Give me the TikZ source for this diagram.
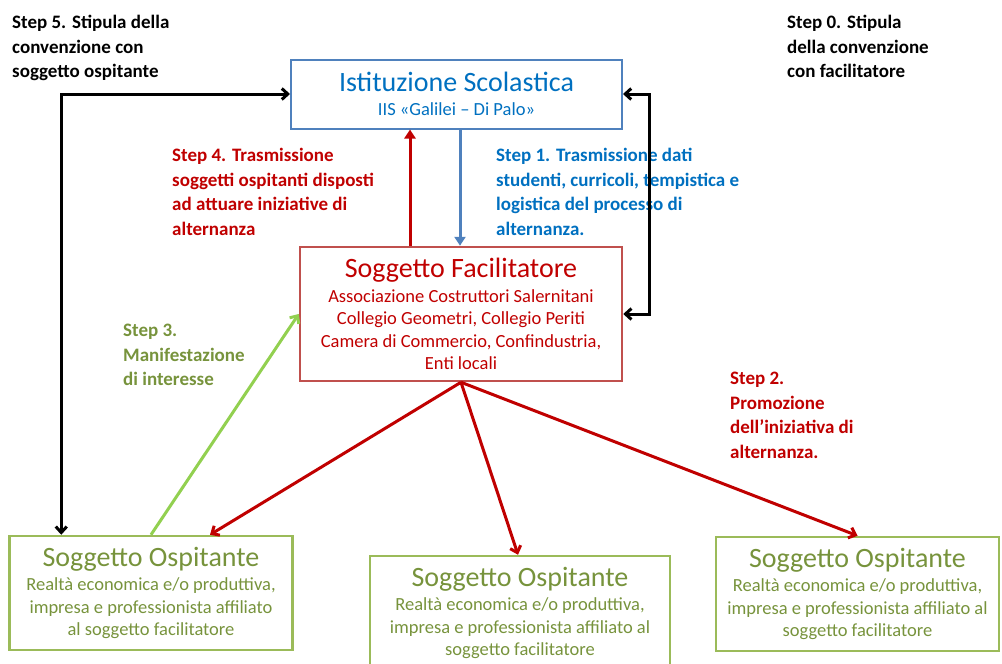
\documentclass[tikz,border=0pt]{standalone}
\usepackage{fontspec}
\setmainfont{Carlito}
\usepackage{xcolor}
\usetikzlibrary{arrows.meta,positioning,calc}

\definecolor{istblue}{HTML}{4F81BD}
\definecolor{txtblue}{HTML}{0070C0}
\definecolor{facred}{HTML}{C0504D}
\definecolor{txtred}{HTML}{C00000}
\definecolor{ospgreen}{HTML}{9BBB59}
\definecolor{txtgreen}{HTML}{77933C}
\definecolor{arrgreen}{HTML}{92D050}

\newcommand{\boxtitle}[1]{{\fontsize{28}{30}\selectfont #1}}

\tikzset{
  box/.style={draw, line width=2.5pt, align=center, inner sep=2pt, font=\fontsize{18.5}{22.5}\selectfont},
  istbox/.style={box, draw=istblue, line width=2pt, text=txtblue, minimum width=331, minimum height=69},
  facbox/.style={box, draw=facred, text=txtred, minimum width=322, minimum height=134},
  ospbox/.style={box, draw=ospgreen, text=txtgreen, minimum width=283, minimum height=114},
  steplbl/.style={anchor=north west, inner sep=0pt, align=left, font=\bfseries\fontsize{19}{24.5}\selectfont},
  link/.style={line width=3pt, -{Straight Barb[length=6pt,width=11pt]}},
  biglink/.style={line width=3pt, {Straight Barb[length=6pt,width=11pt]}-{Straight Barb[length=6pt,width=11pt]}}
}

\begin{document}
\begin{tikzpicture}[x=1pt, y=-1pt]
  \useasboundingbox (0,0) rectangle (1002,664);

  % Boxes
  \node[istbox] (ist) at (456.5,94) {\boxtitle{Istituzione Scolastica}\\[2pt]
    IIS «Galilei – Di Palo»};

  \node[facbox] (fac) at (461,314) {\boxtitle{Soggetto Facilitatore}\\[2pt]
    Associazione Costruttori Salernitani\\
    Collegio Geometri, Collegio Periti\\
    Camera di Commercio, Confindustria,\\
    Enti locali};

  % Soggetti ospitanti
  \foreach \name/\x/\y/\w/\body in {
      osp1/151/593/283/{impresa e professionista affiliato\\al soggetto facilitatore},
      osp2/520/613/300/{impresa e professionista affiliato al\\soggetto facilitatore},
      osp3/857.5/594/283/{impresa e professionista affiliato al\\soggetto facilitatore}} {
    \node[ospbox, minimum width=\w] (\name) at (\x,\y) {\boxtitle{Soggetto Ospitante}\\[2pt]
      Realtà economica e/o produttiva,\\ \body};
  }

  % Step labels
  \node[steplbl] (s5) at (12,15) {Step 5. Stipula della\\convenzione con\\soggetto ospitante};
  \node[steplbl] (s0) at (787,15) {Step 0. Stipula\\della convenzione\\con facilitatore};
  \node[steplbl, text=txtred] (s4) at (172,148) {Step 4. Trasmissione\\soggetti ospitanti disposti\\ad attuare iniziative di\\alternanza};
  \node[steplbl, text=txtblue] (s1) at (496,148) {Step 1. Trasmissione dati\\studenti, curricoli, tempistica e\\logistica del processo di\\alternanza.};
  \node[steplbl, text=txtgreen] (s3) at (123,324) {Step 3.\\Manifestazione\\di interesse};
  \node[steplbl, text=txtred] (s2) at (730,372) {Step 2.\\Promozione\\dell’iniziativa di\\alternanza.};

  % Connectors
  \draw[biglink] (fac.east) -- ++(26,0) |- (ist.east);
  \draw[biglink] (ist.west) -| ($(osp1.north west)+(53,0)$);

  \draw[link, txtred, -{Triangle[length=9pt,width=11pt]}] ([xshift=-51]fac.north) -- ([xshift=-51]fac.north |- ist.south);
  \draw[link, istblue, -{Triangle[length=9pt,width=11pt]}] ([xshift=-1]fac.north |- ist.south) -- ([xshift=-1]fac.north);

  \draw[link, arrgreen] (osp1.north) -- (fac.west);

  \draw[link, txtred] (fac.south) -- ($(osp1.north)+(59,0)$);
  \draw[link, txtred] (fac.south) -- ($(osp2.north)+(-2,0)$);
  \draw[link, txtred] (fac.south) -- (osp3.north);
\end{tikzpicture}
\end{document}
